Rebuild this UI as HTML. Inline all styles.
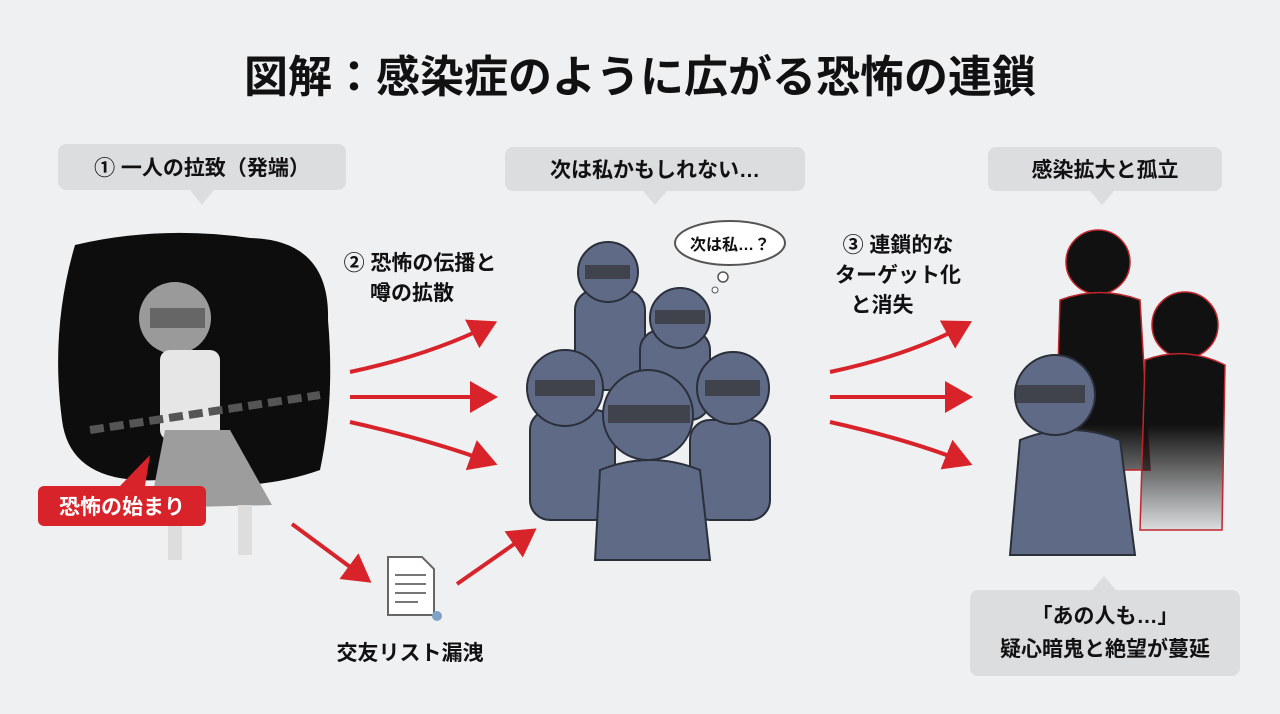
<!DOCTYPE html>
<html><head><meta charset="utf-8"><style>
body{margin:0;width:1280px;height:714px;background:#eef0f2;overflow:hidden;font-family:"Liberation Sans","Noto Sans CJK JP",sans-serif;}
svg{position:absolute;left:0;top:0}
</style></head><body>
<svg width="1280" height="714" viewBox="0 0 1280 714" xmlns="http://www.w3.org/2000/svg">
<defs>
<marker id="ah" markerWidth="8" markerHeight="8" refX="5" refY="4" orient="auto" markerUnits="strokeWidth"><path d="M0,0 L7,4 L0,8 z" fill="#d9232a"/></marker>
<linearGradient id="fade" gradientUnits="userSpaceOnUse" x1="0" y1="330" x2="0" y2="540"><stop offset="0" stop-color="#111"/><stop offset="0.45" stop-color="#111"/><stop offset="1" stop-color="#111" stop-opacity="0"/></linearGradient>
</defs>
<text x="640" y="92" text-anchor="middle" font-size="44" font-weight="bold" fill="#111">図解：感染症のように広がる恐怖の連鎖</text>
<g fill="#dcdddf">
<rect x="58" y="144" width="288" height="46" rx="8"/><path d="M190,190 L202,205 L214,190z"/>
<rect x="505" y="147" width="300" height="44" rx="8"/><path d="M643,191 L655,205 L667,191z"/>
<rect x="988" y="147" width="234" height="44" rx="8"/><path d="M1090,191 L1102,205 L1114,191z"/>
<rect x="970" y="590" width="270" height="86" rx="8"/><path d="M1092,590 L1104,576 L1116,590z"/>
</g>
<g font-size="21" font-weight="bold" fill="#111" text-anchor="middle">
<text x="202" y="175">① 一人の拉致（発端）</text>
<text x="655" y="177">次は私かもしれない…</text>
<text x="1105" y="177">感染拡大と孤立</text>
<text x="1105" y="623">「あの人も…」</text>
<text x="1105" y="656">疑心暗鬼と絶望が蔓延</text>
<text x="420" y="270">② 恐怖の伝播と</text>
<text x="412" y="300">噂の拡散</text>
<text x="898" y="252">③ 連鎖的な</text>
<text x="898" y="282">ターゲット化</text>
<text x="882" y="312">と消失</text>
<text x="410" y="660">交友リスト漏洩</text>
</g>
<path d="M75,245 Q160,225 250,238 Q330,240 328,320 Q335,400 320,470 Q250,495 160,480 Q70,485 62,420 Q50,330 75,245z" fill="#0d0d0d"/>
<circle cx="175" cy="318" r="36" fill="#9a9a9a"/>
<rect x="160" y="350" width="60" height="90" rx="10" fill="#e6e6e6"/>
<path d="M165,430 L230,430 L272,505 L150,508z" fill="#9d9d9d"/>
<rect x="168" y="505" width="14" height="55" fill="#ddd"/><rect x="238" y="505" width="14" height="50" fill="#ddd"/>
<path d="M90,430 L320,395" stroke="#555" stroke-width="8" stroke-dasharray="14 6"/>
<rect x="150" y="308" width="55" height="20" fill="#444" opacity="0.6"/>
<rect x="38" y="486" width="168" height="40" rx="6" fill="#d9232a"/>
<path d="M120,486 L150,455 L145,486z" fill="#d9232a"/>
<text x="122" y="514" text-anchor="middle" font-size="21" font-weight="bold" fill="#fff">恐怖の始まり</text>
<g stroke="#d9232a" stroke-width="4" fill="none" marker-end="url(#ah)">
<path d="M350,372 Q430,355 490,325"/>
<path d="M350,397 L490,397"/>
<path d="M350,422 Q430,440 490,462"/>
<path d="M830,372 Q910,355 965,325"/>
<path d="M830,397 L965,397"/>
<path d="M830,422 Q910,440 965,462"/>
<path d="M292,524 L365,578"/>
<path d="M457,584 L530,533"/>
</g>
<path d="M388,557 L422,557 L434,569 L434,615 L388,615z" fill="#fff" stroke="#666" stroke-width="2"/>
<g stroke="#777" stroke-width="2"><line x1="395" y1="575" x2="426" y2="575"/><line x1="395" y1="584" x2="426" y2="584"/><line x1="395" y1="593" x2="426" y2="593"/><line x1="395" y1="602" x2="418" y2="602"/></g>
<circle cx="437" cy="616" r="5" fill="#7fa3c8"/>
<g fill="#5f6a86" stroke="#2a2f3a" stroke-width="2">
<rect x="575" y="290" width="70" height="100" rx="20"/><circle cx="608" cy="272" r="30"/>
<rect x="640" y="330" width="70" height="90" rx="20"/><circle cx="680" cy="318" r="30"/>
<rect x="530" y="410" width="85" height="110" rx="20"/><circle cx="565" cy="388" r="38"/>
<rect x="690" y="420" width="80" height="100" rx="20"/><circle cx="733" cy="388" r="36"/>
<path d="M600,470 Q650,450 700,470 L710,560 L595,560z"/><circle cx="648" cy="415" r="45"/>
</g>
<g fill="#333" opacity="0.7"><rect x="585" y="265" width="45" height="14"/><rect x="655" y="310" width="50" height="14"/><rect x="535" y="380" width="60" height="16"/><rect x="705" y="380" width="55" height="16"/><rect x="608" y="405" width="82" height="18"/></g>
<ellipse cx="730" cy="243" rx="55" ry="22" fill="#fff" stroke="#555" stroke-width="2"/>
<circle cx="723" cy="277" r="5" fill="#fff" stroke="#555" stroke-width="1.5"/><circle cx="715" cy="290" r="3" fill="#fff" stroke="#555"/>
<text x="730" y="250" text-anchor="middle" font-size="16" font-weight="bold" fill="#111">次は私…？</text>
<g fill="url(#fade)" stroke="#c0262b" stroke-width="1.5">
<circle cx="1098" cy="262" r="32"/><path d="M1060,300 Q1100,285 1140,300 L1150,470 L1055,470z"/>
<circle cx="1185" cy="325" r="33"/><path d="M1145,360 Q1185,345 1225,365 L1222,530 L1140,530z"/>
</g>
<g fill="#5f6a86" stroke="#2a2f3a" stroke-width="2">
<path d="M1020,440 Q1070,420 1120,440 L1135,555 L1010,555z"/><circle cx="1055" cy="395" r="40"/>
</g>
<rect x="1015" y="385" width="70" height="18" fill="#333" opacity="0.7"/>
</svg>
</body></html>
